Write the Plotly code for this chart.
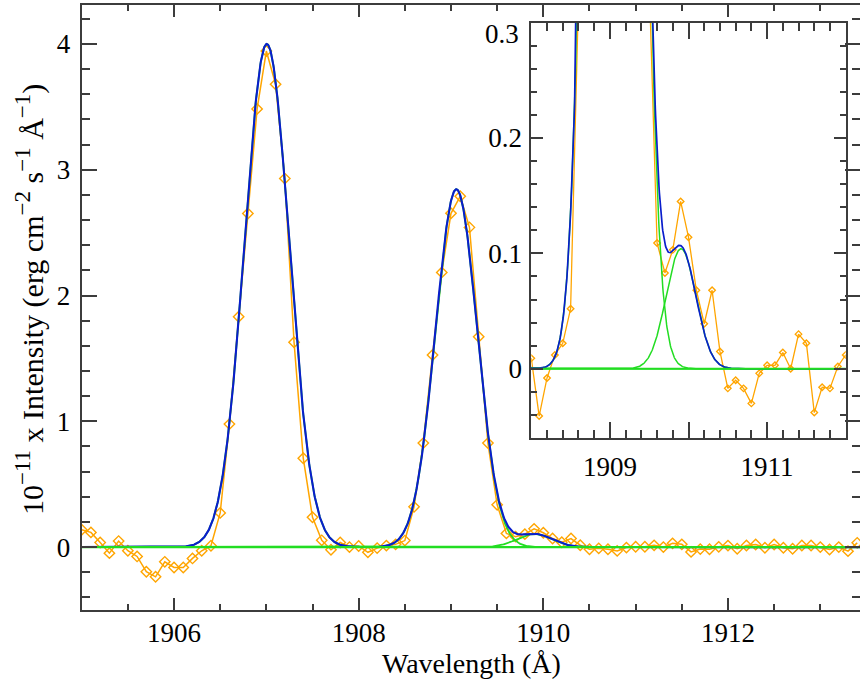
import numpy as np
import plotly.graph_objects as go

# ---------------- data ----------------
wavelength = [
    1905.0, 1905.1, 1905.2, 1905.3, 1905.4, 1905.5, 1905.6, 1905.7, 1905.8, 1905.9,
    1906.0, 1906.1, 1906.2, 1906.3, 1906.4, 1906.5, 1906.6, 1906.7, 1906.8, 1906.9,
    1907.0, 1907.1, 1907.2, 1907.3, 1907.4, 1907.5, 1907.6, 1907.7, 1907.8, 1907.9,
    1908.0, 1908.1, 1908.2, 1908.3, 1908.4, 1908.5, 1908.6, 1908.7, 1908.8, 1908.9,
    1909.0, 1909.1, 1909.2, 1909.3, 1909.4, 1909.5, 1909.6, 1909.7, 1909.8, 1909.9,
    1910.0, 1910.1, 1910.2, 1910.3, 1910.4, 1910.5, 1910.6, 1910.7, 1910.8, 1910.9,
    1911.0, 1911.1, 1911.2, 1911.3, 1911.4, 1911.5, 1911.6, 1911.7, 1911.8, 1911.9,
    1912.0, 1912.1, 1912.2, 1912.3, 1912.4, 1912.5, 1912.6, 1912.7, 1912.8, 1912.9,
    1913.0, 1913.1, 1913.2, 1913.3, 1913.4,
]
intensity = [
    0.138, 0.117, 0.037, -0.048, 0.048, -0.029, -0.074, -0.196, -0.236, -0.117,
    -0.162, -0.162, -0.090, -0.029, 0.011, 0.272, 0.978, 1.831, 2.652, 3.484,
    3.944, 3.680, 2.930, 1.629, 0.706, 0.237, 0.054, -0.021, 0.037, 0.000,
    0.009, -0.041, -0.008, 0.012, 0.022, 0.052, 0.320, 0.827, 1.527, 2.184,
    2.654, 2.789, 2.542, 1.672, 0.827, 0.336, 0.109, 0.083, 0.103, 0.145,
    0.114, 0.068, 0.039, 0.068, 0.015, -0.017, -0.010, -0.017, -0.030, -0.004,
    0.003, 0.003, 0.014, 0.000, 0.030, 0.022, -0.038, -0.016, -0.017, 0.002,
    0.012, -0.013, 0.013, 0.021, -0.005, 0.021, -0.005, -0.013, 0.013, 0.013,
    0.000, -0.019, 0.000, -0.032, 0.034,
]

# Gaussian fit components (centre, amplitude, sigma), plus flat background
fit_centres = [1907.005, 1909.058, 1909.905]
fit_amplitudes = [4.00, 2.845, 0.104]
fit_sigmas = [0.242, 0.226, 0.19]
fit_background = 0.0

main_xticks = [1906, 1908, 1910, 1912]
inset_xticks = [1908, 1909, 1910, 1911, 1912]
inset_xticklabels = ["", "1909", "", "1911", ""]
inset_yticks = [0, 0.1, 0.2, 0.3]
inset_yticklabels = ["0", "0.1", "0.2", ""]

# ---------------- styles ----------------
ORANGE = "#ffa500"
BLUE = "#0a1ecc"
GREEN = "#22dd22"
AXIS = "#3c3c3c"
FONT = "Liberation Serif, Times New Roman, serif"
FS = 27

W, H = 860, 688


def px_x(p):
    return p / W


def px_y(p):
    return 1 - p / H


def gauss(x, c, a, s):
    return a * np.exp(-0.5 * ((x - c) / s) ** 2)


xf = np.linspace(1904.9, 1913.6, 1800)
comps = [gauss(xf, c, a, s) for c, a, s in zip(fit_centres, fit_amplitudes, fit_sigmas)]
total = sum(comps) + fit_background

fig = go.Figure()

for xa, ya, msize, lw in (("x", "y", 8, 1.5), ("x2", "y2", 5, 1.3)):
    fig.add_trace(go.Scatter(
        x=wavelength, y=intensity, mode="lines+markers",
        line=dict(color=ORANGE, width=lw),
        marker=dict(symbol="diamond-open", size=msize, color=ORANGE, line=dict(width=1.4, color=ORANGE)),
        xaxis=xa, yaxis=ya, showlegend=False,
    ))
    for comp in comps:
        fig.add_trace(go.Scatter(
            x=xf, y=comp + fit_background, mode="lines",
            line=dict(color=GREEN, width=1.8 if xa == "x" else 1.5),
            xaxis=xa, yaxis=ya, showlegend=False,
        ))
    fig.add_trace(go.Scatter(
        x=xf, y=total, mode="lines", line=dict(color=BLUE, width=2.1 if xa == "x" else 1.7),
        xaxis=xa, yaxis=ya, showlegend=False,
    ))
    fig.add_trace(go.Scatter(
        x=[xf[0], xf[-1]], y=[fit_background, fit_background], mode="lines",
        line=dict(color=GREEN, width=2.2 if xa == "x" else 1.8),
        xaxis=xa, yaxis=ya, showlegend=False,
    ))

tickfont = dict(family=FONT, size=FS, color="black")

common = dict(showline=True, linecolor=AXIS, linewidth=2, mirror="allticks",
              showgrid=False, zeroline=False, tickfont=tickfont, automargin=False,
              ticks="inside", tickwidth=1.5, tickcolor=AXIS)

SUP = "<sup><span style='font-size:23px'>{}</span></sup>"
ytitle = ("10" + SUP.format("−11") + " x Intensity (erg cm" + SUP.format("−2") +
          " s" + SUP.format("−1") + " Å" + SUP.format("−1") + ")")

fig.update_layout(
    width=W, height=H,
    margin=dict(l=0, r=0, t=0, b=0, autoexpand=False),
    paper_bgcolor="white", plot_bgcolor="rgba(0,0,0,0)",
    xaxis=dict(
        domain=[px_x(81.7), px_x(860)], range=[1905, 1913.43],
        tickvals=main_xticks, ticklen=12,
        minor=dict(dtick=0.5, tick0=1905, ticks="inside", ticklen=6, tickwidth=1.5, tickcolor=AXIS),
        ticklabelstandoff=-2, anchor="y", **common,
    ),
    yaxis=dict(
        domain=[px_y(610), px_y(5)], range=[-0.5, 4.31],
        tick0=0, dtick=1, ticklen=15,
        minor=dict(dtick=0.2, tick0=0, ticks="inside", ticklen=8, tickwidth=1.5, tickcolor=AXIS),
        ticklabelstandoff=4, anchor="x", **common,
    ),
    xaxis2=dict(
        domain=[px_x(531.3), px_x(845.7)], range=[1908, 1912],
        tickvals=inset_xticks, ticktext=inset_xticklabels, ticklen=16,
        minor=dict(dtick=0.2, tick0=1908, ticks="inside", ticklen=8, tickwidth=1.5, tickcolor=AXIS),
        ticklabelstandoff=4, anchor="y2", **common,
    ),
    yaxis2=dict(
        domain=[px_y(438), px_y(22.5)], range=[-0.06, 0.3],
        tickvals=inset_yticks, ticktext=inset_yticklabels, ticklen=12,
        minor=dict(dtick=0.02, tick0=0, ticks="inside", ticklen=6, tickwidth=1.5, tickcolor=AXIS),
        ticklabelstandoff=2, anchor="x2", **common,
    ),
    shapes=[dict(type="rect", xref="paper", yref="paper",
                 x0=px_x(531.3), x1=px_x(845.7), y0=px_y(438), y1=px_y(22.5),
                 fillcolor="white", line=dict(width=0), layer="below")],
    annotations=[
        dict(text="0.3", xref="x2 domain", yref="y2", x=0, y=0.3, xanchor="right", yanchor="middle",
             xshift=-10, yshift=-11, showarrow=False, font=tickfont),
        dict(text="Wavelength (Å)", xref="paper", yref="paper", x=px_x(471), y=px_y(663),
             xanchor="center", yanchor="middle", showarrow=False,
             font=dict(family=FONT, size=28, color="black")),
        dict(text=ytitle,
             xref="paper", yref="paper", x=px_x(30), y=px_y(300), textangle=-90,
             xanchor="center", yanchor="middle", showarrow=False,
             font=dict(family=FONT, size=30, color="black")),
    ],
)

fig.write_html("out.html", config={"displayModeBar": False},
               post_script="document.body.style.margin='0';document.body.style.overflow='hidden';")
